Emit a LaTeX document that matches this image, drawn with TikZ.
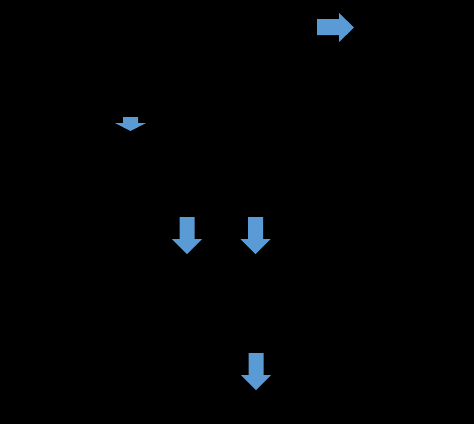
\documentclass[tikz,border=0pt]{standalone}
\usepackage{tikz}

\definecolor{arrowblue}{HTML}{5B9BD5}

\tikzset{
  blockarrow/.style={fill=arrowblue, draw=none},
}

\begin{document}
\begin{tikzpicture}[x=1pt, y=-1pt]
        \fill[black] (0, 0) rectangle (474, 424);
        \useasboundingbox (0, 0) rectangle (474, 424);

        % arrow pointing right, top
        \fill[blockarrow] (317, 19) -- (339, 19) -- (339, 13) -- (354, 27.5)
            -- (339, 42) -- (339, 35) -- (317, 35) -- cycle;

        % small arrow pointing down
        \fill[blockarrow] (123, 117) -- (138, 117) -- (138, 123) -- (146, 123)
            -- (130.5, 131) -- (115, 123) -- (123, 123) -- cycle;

        % three arrows pointing down
        \foreach \ax/\ay in {187/217, 255.5/217, 256/353} {
            \fill[blockarrow, shift={(\ax, \ay)}] (-7.5, 0) -- (7.5, 0) -- (7.5, 22)
                -- (15, 22) -- (0, 37) -- (-15, 22) -- (-7.5, 22) -- cycle;
        }
    \end{tikzpicture}
\end{document}
